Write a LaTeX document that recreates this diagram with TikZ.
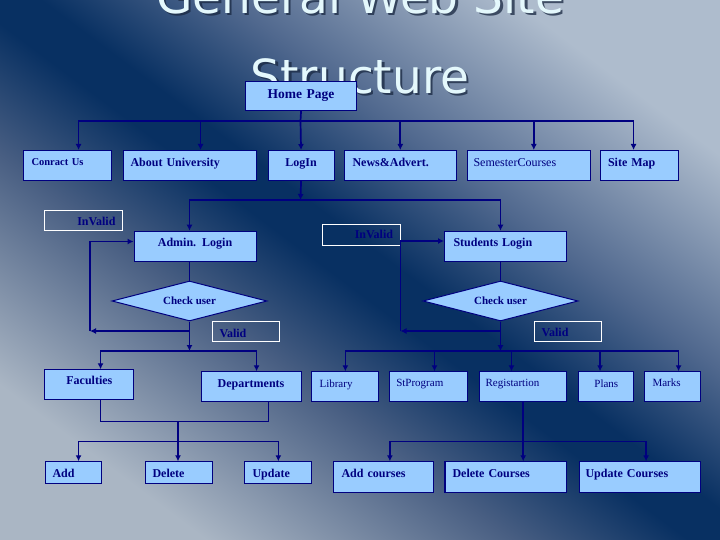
\documentclass[tikz,border=0pt]{standalone}
\usepackage{fontspec}
\setmainfont{Liberation Serif}
\newfontfamily\ttlfont{DejaVu Sans}
\usetikzlibrary{arrows.meta,shapes.geometric}

\definecolor{lnblue}{RGB}{0,0,128}
\definecolor{boxblue}{RGB}{153,204,255}
\definecolor{bgdark}{RGB}{8,48,98}
\definecolor{bghi}{RGB}{174,188,205}
\definecolor{bglo}{RGB}{170,182,196}
\definecolor{bgmidlo}{RGB}{72,94,130}
\definecolor{bgmidhi}{RGB}{80,104,142}
\definecolor{ttlcol}{RGB}{228,248,252}
\definecolor{ttlshd}{RGB}{25,40,65}

\pgfdeclareverticalshading{slidebg}{100bp}{color(0bp)=(bglo); color(25bp)=(bglo); color(40bp)=(bgmidlo); color(48.5bp)=(bgdark); color(52bp)=(bgdark); color(61bp)=(bgmidhi); color(75bp)=(bghi); color(100bp)=(bghi)}

\tikzset{
  box/.style={draw=lnblue, fill=boxblue, line width=1.1pt, anchor=north west, inner ysep=0pt,
    align=left, text=lnblue, font=\bfseries\fontsize{12}{14}\selectfont},
  tag/.style={draw=white, line width=1pt, anchor=north west, inner ysep=0pt,
    align=left, text=lnblue, font=\bfseries\fontsize{12}{14}\selectfont},
  sz/.style n args={4}{text width=#1, inner xsep=#2, text height=#3, text depth=#4},
  reg/.style={font=\fontsize{11}{13}\selectfont},
  chk/.style={diamond, draw=lnblue, fill=boxblue, line width=1pt, aspect=3.9, inner sep=0pt,
    minimum width=155pt, minimum height=40pt, text=lnblue, font=\bfseries\fontsize{11}{13}\selectfont},
  thn/.style={draw=lnblue, line width=0.9pt},
  thk/.style={draw=lnblue, line width=1.7pt},
  arr/.style={thk, -{Latex[length=6pt,width=6pt]}},
  ttl/.style={anchor=base, font=\ttlfont\fontsize{47}{50}\selectfont}
}

\begin{document}
\begin{tikzpicture}[x=1pt,y=-1pt]
  \useasboundingbox (0,0) rectangle (720,540);
  \shade[shading=slidebg, shading angle=-36.87] (0,0) rectangle (720,540);

  % title
  \node[ttl, text=ttlshd, opacity=0.75] (ttlAs) at (362.5,15.8) {General Web Site};
  \node[ttl, text=ttlshd, opacity=0.75] (ttlBs) at (362.5,95.8) {Structure};
  \node[ttl, text=ttlcol] (ttlA) at (360,13.3) {General Web Site};
  \node[ttl, text=ttlcol] (ttlB) at (360,93.3) {Structure};

  % top level
  \node[box, sz={111pt}{0pt}{16.5pt}{12.5pt}, align=center, font=\bfseries\fontsize{13.5}{15}\selectfont] (home) at (245,81) {Home Page};

  \node[box, sz={72pt}{8pt}{15pt}{15pt}, font=\bfseries\fontsize{10.5}{12}\selectfont] (contact) at (23,150) {Conract Us};
  \node[box, sz={118pt}{7.5pt}{16pt}{14pt}] (about) at (122.5,150) {About University};
  \node[box, sz={66pt}{0pt}{16pt}{14pt}, align=center] (login) at (267.5,150) {LogIn};
  \node[box, sz={95.5pt}{8pt}{16pt}{14pt}] (news) at (344,150) {News\&Advert.};
  \node[box, sz={110.5pt}{6pt}{16pt}{14pt}, font=\fontsize{12}{14}\selectfont] (semester) at (467,150) {SemesterCourses};
  \node[box, sz={63pt}{7.5pt}{16pt}{14pt}] (sitemap) at (600,150) {Site Map};

  \coordinate (busA) at (300.5,121);
  \draw[thk] (home.south) -- (busA);
  \draw[arr] (busA) -| ([xshift=11pt]contact.north);
  \draw[arr] (busA) -| ([xshift=11pt]about.north);
  \draw[arr] (busA) -- (login.north);
  \draw[arr] (busA) -| (news.north);
  \draw[arr] (busA) -| ([xshift=5pt]semester.north);
  \draw[arr] (busA) -| ([xshift=-6pt]sitemap.north);

  % login
  \node[box, sz={122pt}{0pt}{15.6pt}{14.9pt}, align=center] (admin) at (133.5,230.7) {Admin. Login};
  \node[box, sz={104.3pt}{9pt}{15.6pt}{14.9pt}] (students) at (444,230.7) {Students Login};
  \node[tag, sz={63.4pt}{7.3pt}{14.8pt}{5.2pt}, align=right] (invalidA) at (44.3,210.5) {InValid};
  \node[tag, sz={63pt}{7.5pt}{13.8pt}{6.2pt}, align=right] (invalidB) at (322,224.5) {InValid};

  \node[chk] (checkA) at (189.5,301) {Check user};
  \node[chk] (checkB) at (500.5,301) {Check user};
  \node[tag, sz={52pt}{7.5pt}{15.4pt}{4.6pt}] (validA) at (211.5,321.3) {Valid};
  \node[tag, sz={52pt}{7.5pt}{15pt}{5pt}] (validB) at (533.5,321.3) {Valid};

  \coordinate (busB) at (300.5,200);
  \draw[arr] (login.south) -- (busB);
  \draw[arr] (busB) -| (checkA |- admin.north);
  \draw[arr] (busB) -| (checkB |- students.north);
  \draw[thn] (checkA |- admin.south) -- (checkA.north);
  \draw[thn] (checkB |- students.south) -- (checkB.north);

  \coordinate (jA) at (189.5,331);
  \coordinate (loopA) at (90,331);
  \coordinate (jB) at (500.5,331);
  \coordinate (loopB) at (400.5,331);
  \draw[arr] (jA) -- (loopA);
  \draw[arr] (loopA) |- ([yshift=5pt]admin.west);
  \draw[arr] (jB) -- (loopB);
  \draw[arr] (loopB) |- ([yshift=5.5pt]students.west);

  % admin side
  \node[box, sz={89pt}{0pt}{14.4pt}{15.6pt}, align=center] (faculties) at (44.3,369.3) {Faculties};
  \node[box, sz={100pt}{0pt}{16pt}{14pt}, align=center] (departments) at (200.5,371.3) {Departments};
  \node[box, sz={41pt}{7.5pt}{16pt}{5.5pt}] (add) at (44.5,461.3) {Add};
  \node[box, sz={52.2pt}{7.4pt}{16pt}{5.5pt}] (delete) at (144.6,461.3) {Delete};
  \node[box, sz={51.6pt}{7.7pt}{16pt}{5.5pt}] (update) at (244.3,461.3) {Update};

  \coordinate (busC) at (189.5,351);
  \draw[arr] (checkA.south) -- (busC);
  \draw[arr] (busC) -| ([xshift=11.2pt]faculties.north);
  \draw[arr] (busC) -| ([xshift=5.5pt]departments.north);
  \coordinate (mergeA) at (178,421);
  \coordinate (busD) at (178,441.5);
  \draw[thn] ([xshift=11.2pt]faculties.south) |- (mergeA);
  \draw[thn] ([xshift=17.2pt]departments.south) |- (mergeA);
  \draw[thk] (mergeA) -- (busD);
  \draw[arr] (busD) -| ([xshift=5.5pt]add.north);
  \draw[arr] (busD) -- (busD |- delete.north);
  \draw[arr] (busD) -| (update.north);

  % student side
  \node[box, sz={51.6pt}{7.7pt}{15.2pt}{14.8pt}, reg] (library) at (311.3,371.3) {Library};
  \node[box, sz={64.9pt}{6.4pt}{15pt}{15pt}, reg] (stprogram) at (389.3,371.3) {StProgram};
  \node[box, sz={75.3pt}{6pt}{15pt}{15pt}, reg] (registration) at (479,371.3) {Registartion};
  \node[box, sz={55pt}{0pt}{15.5pt}{14.5pt}, align=center, reg] (plans) at (578.3,371.3) {Plans};
  \node[box, sz={40.6pt}{7.7pt}{15pt}{15pt}, reg] (marks) at (644.3,371.3) {Marks};

  \coordinate (busE) at (500.5,351);
  \draw[arr] (checkB.south) -- (busE);
  \draw[arr] (busE) -| (library.north);
  \draw[arr] (busE) -| ([xshift=5.8pt]stprogram.north);
  \draw[arr] (busE) -| ([xshift=-11.7pt]registration.north);
  \draw[arr] (busE) -| ([xshift=-6.3pt]plans.north);
  \draw[arr] (busE) -| ([xshift=5.7pt]marks.north);

  \node[box, sz={84.3pt}{7.7pt}{16pt}{15pt}] (addc) at (333.3,461.3) {Add courses};
  \node[box, sz={106.4pt}{7.6pt}{16pt}{15pt}] (delc) at (444.4,461.3) {Delete Courses};
  \node[box, sz={108.7pt}{6.5pt}{16pt}{15pt}] (updc) at (578.5,461.3) {Update Courses};

  \coordinate (busF) at (registration.south |- 0,441.5);
  \draw[thk] (registration.south) -- (busF);
  \draw[arr] (busF) -| ([xshift=6.2pt]addc.north);
  \draw[arr] (busF) -- (busF |- delc.north);
  \draw[arr] (busF) -| ([xshift=6.2pt]updc.north);
\end{tikzpicture}
\end{document}
